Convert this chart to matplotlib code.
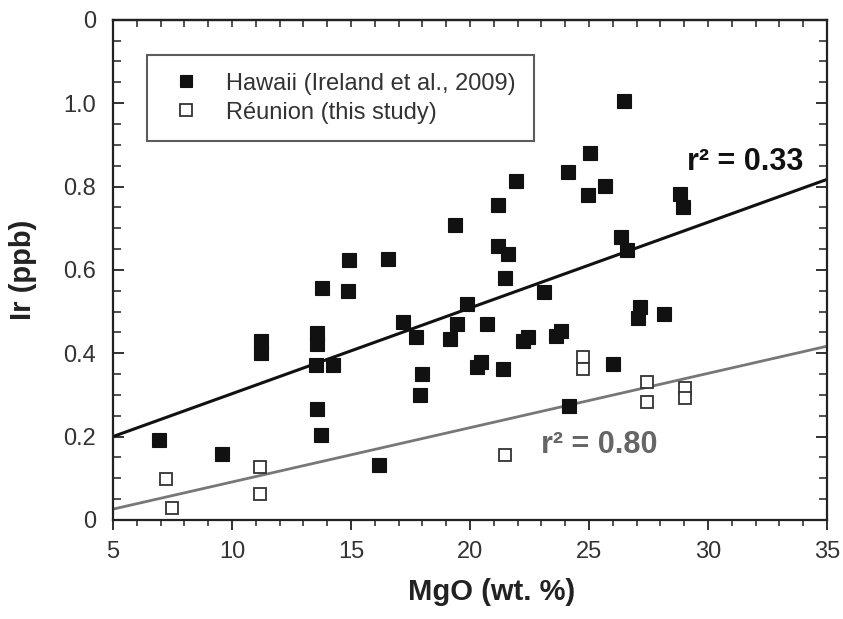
import numpy as np
import matplotlib
matplotlib.use("Agg")
import matplotlib.pyplot as plt
from matplotlib.ticker import MultipleLocator, FixedLocator

plt.rcParams['font.family'] = ['Liberation Sans', 'DejaVu Sans']

# Hawaii picrites (Ireland et al., 2009)
hawaiiMgO = [6.93, 9.59, 11.22, 11.22, 13.59, 13.59, 13.52, 14.26, 13.56, 13.76,
             16.17, 17.19, 17.74, 17.99, 17.92, 19.18, 19.45, 19.87, 20.30, 20.45,
             21.40, 19.35, 14.92, 16.55, 13.77, 14.89, 26.46, 25.06, 24.12, 25.68,
             24.98, 21.95, 21.16, 28.84, 28.95, 26.35, 26.60, 21.16, 21.58, 21.47,
             23.12, 20.70, 27.13, 27.06, 28.14, 22.45, 22.24, 23.84, 23.63, 25.99,
             24.14]
hawaiiIr = [0.192, 0.159, 0.429, 0.401, 0.449, 0.421, 0.371, 0.371, 0.267, 0.203,
            0.131, 0.474, 0.439, 0.351, 0.299, 0.433, 0.469, 0.517, 0.368, 0.378,
            0.363, 0.707, 0.623, 0.627, 0.557, 0.550, 1.006, 0.880, 0.836, 0.801,
            0.780, 0.813, 0.756, 0.781, 0.751, 0.680, 0.647, 0.657, 0.639, 0.581,
            0.547, 0.469, 0.511, 0.485, 0.493, 0.438, 0.430, 0.453, 0.441, 0.373,
            0.274]

# Reunion samples
reunionMgO = [7.22, 7.50, 11.18, 11.18, 24.75, 24.75, 27.44, 27.44, 29.03, 29.03, 21.47]
reunionIr = [0.098, 0.028, 0.127, 0.063, 0.391, 0.362, 0.332, 0.282, 0.317, 0.293, 0.156]

# linear fits: [slope, intercept]
hawaiiFit = [0.02057, 0.0972]
reunionFit = [0.01303, -0.0392]
hawaiiR2 = 0.33
reunionR2 = 0.80

yTicks = [0, 0.2, 0.4, 0.6, 0.8, 1.0, 1.2]
yTickLabels = ['0', '0.2', '0.4', '0.6', '0.8', '1.0', '0']

fig = plt.figure(figsize=(8.43, 6.19), dpi=100)
ax = fig.add_axes([0.134, 0.160, 0.847, 0.808])

xfit = np.array([5, 35])
ax.plot(xfit, np.polyval(hawaiiFit, xfit), color='#111111', lw=2.2, zorder=2)
ax.plot(xfit, np.polyval(reunionFit, xfit), color='#777777', lw=2.0, zorder=2)

ax.plot(hawaiiMgO, hawaiiIr, 's', ms=10.5, mfc='#111111', mec='#111111', mew=0.8,
        ls='none', label='Hawaii (Ireland et al., 2009)', zorder=3)
ax.plot(reunionMgO, reunionIr, 's', ms=9, mfc='white', mec='#333333', mew=1.3,
        ls='none', label='Réunion (this study)', zorder=3)

ax.text(29.1, 0.86, 'r\u00b2 = %.2f' % hawaiiR2, fontsize=22, fontweight='bold',
        color='#111111', va='center')
ax.text(23.0, 0.18, 'r\u00b2 = %.2f' % reunionR2, fontsize=22, fontweight='bold',
        color='#666666', va='center')

ax.set_xlim(5, 35)
ax.set_ylim(0, 1.2)
ax.xaxis.set_major_locator(MultipleLocator(5))
ax.xaxis.set_minor_locator(MultipleLocator(1))
ax.yaxis.set_major_locator(FixedLocator(yTicks))
ax.yaxis.set_minor_locator(MultipleLocator(0.05))
ax.set_yticklabels(yTickLabels)

ax.tick_params(axis='x', which='both', direction='out', bottom=True, top=False,
               labelsize=17, labelcolor='#333333', color='#222222', pad=8)
ax.tick_params(axis='x', which='major', length=7, width=1.3)
ax.tick_params(axis='x', which='minor', length=4, width=1.1)
ax.tick_params(axis='y', which='both', direction='in', left=True, right=True,
               labelsize=17, labelcolor='#333333', color='#222222', pad=12)
ax.tick_params(axis='y', which='major', length=8, width=1.3)
ax.tick_params(axis='y', which='minor', length=6, width=1.1)

# inward ticks along the top edge
sec = ax.secondary_xaxis('top')
sec.set_xticks(np.arange(5, 36, 1))
sec.tick_params(direction='in', length=5, width=1.1, labeltop=False, color='#222222')
sec.spines['top'].set_linewidth(1.6)
sec.spines['top'].set_color('#222222')

for s in ax.spines.values():
    s.set_linewidth(1.6)
    s.set_color('#222222')

ax.set_xlabel('MgO (wt. %)', fontsize=21, fontweight='bold', color='#222222')
ax.set_ylabel('Ir (ppb)', fontsize=21, fontweight='bold', color='#222222')
ax.xaxis.set_label_coords(0.531, -0.116)
ax.yaxis.set_label_coords(-0.106, 0.5)

leg = ax.legend(loc='upper left', bbox_to_anchor=(0.048, 0.93), borderaxespad=0,
                fontsize=17, frameon=True, fancybox=False, edgecolor='#333333',
                handlelength=1.8, handletextpad=0.8, borderpad=0.75, labelspacing=0.3,
                labelcolor='#333333')
leg.get_frame().set_linewidth(1.5)
for h in leg.legend_handles:
    h.set_markersize(8)

fig.savefig('out.png', dpi=100)
